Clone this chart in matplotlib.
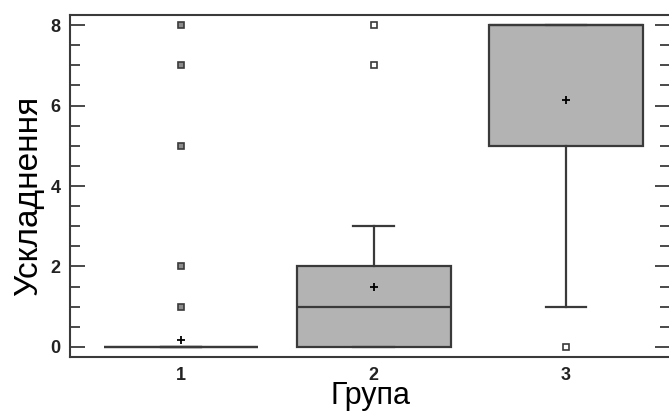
import matplotlib.pyplot as plt
from matplotlib.ticker import MultipleLocator

groups = ['1', '2', '3']
q1 = [0, 0, 5]
median = [0, 1, 8]
q3 = [0, 2, 8]
whisker_low = [0, 0, 1]
whisker_high = [0, 3, 8]
means = [0.17, 1.5, 6.15]
outliers = [[1, 2, 5, 7, 8], [7, 8], [0]]
outlier_face = ['#8c8c8c', 'white', 'white']

plt.rcParams['font.family'] = ['Liberation Sans', 'DejaVu Sans']

fig = plt.figure(figsize=(6.69, 4.12), dpi=100)
ax = fig.add_axes([0.1046, 0.1335, 0.897, 0.830])

stats = []
for i, g in enumerate(groups):
    stats.append({'label': g, 'q1': q1[i], 'med': median[i], 'q3': q3[i],
                  'whislo': whisker_low[i], 'whishi': whisker_high[i],
                  'mean': means[i], 'fliers': outliers[i]})

edge = '#3a3a3a'
bp = ax.bxp(stats, positions=[1, 2, 3], widths=0.8, patch_artist=True,
            showmeans=True,
            boxprops=dict(facecolor='#b3b3b3', edgecolor=edge, linewidth=1.6),
            medianprops=dict(color=edge, linewidth=1.6),
            whiskerprops=dict(color=edge, linewidth=1.6),
            capprops=dict(color=edge, linewidth=1.6),
            capwidths=0.21,
            meanprops=dict(marker='+', markeredgecolor='black', markersize=6,
                           markeredgewidth=1.3),
            flierprops=dict(marker='s', markersize=5, markeredgecolor=edge,
                            markeredgewidth=1.2))
for fl, fc in zip(bp['fliers'], outlier_face):
    fl.set_markerfacecolor(fc)

ax.set_xlim(0.4234, 3.54)
ax.set_ylim(-0.25, 8.25)
ax.yaxis.set_major_locator(MultipleLocator(2))
ax.yaxis.set_minor_locator(MultipleLocator(0.5))
ax.tick_params(axis='y', which='both', direction='in', right=True,
               colors=edge, labelcolor='#222222', width=1.3)
ax.tick_params(axis='y', which='major', length=11, pad=7, labelsize=13)
ax.tick_params(axis='y', which='minor', length=7)
ax.tick_params(axis='x', length=0, pad=7, labelsize=13, labelcolor='#222222')
for lab in ax.get_xticklabels() + ax.get_yticklabels():
    lab.set_fontweight('bold')
for s in ax.spines.values():
    s.set_color(edge)
    s.set_linewidth(1.5)

ax.set_xlabel('Група', fontsize=22, labelpad=-2)
ax.set_ylabel('Ускладнення', fontsize=24)
ax.yaxis.set_label_coords(-0.043, 0.47)

fig.savefig('out.png', dpi=100)
